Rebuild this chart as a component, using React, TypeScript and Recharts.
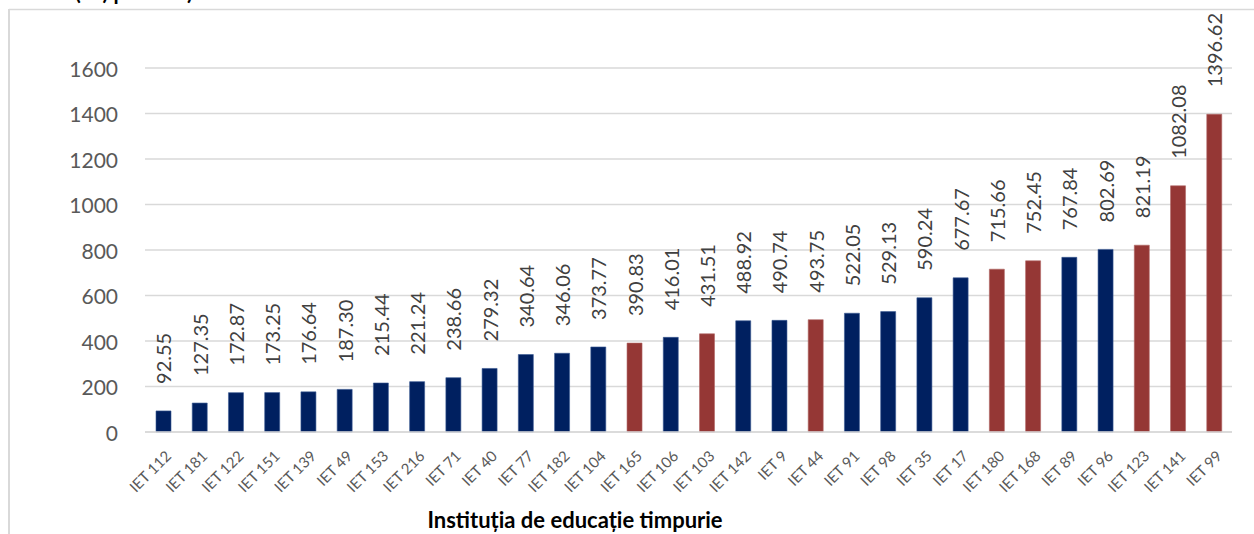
import React from "react";
import { BarChart, Bar, XAxis, YAxis, CartesianGrid, Cell, LabelList } from "recharts";

const categories = [
  "IET 112", "IET 181", "IET 122", "IET 151", "IET 139", "IET 49", "IET 153", "IET 216",
  "IET 71", "IET 40", "IET 77", "IET 182", "IET 104", "IET 165", "IET 106", "IET 103",
  "IET 142", "IET 9", "IET 44", "IET 91", "IET 98", "IET 35", "IET 17", "IET 180",
  "IET 168", "IET 89", "IET 96", "IET 123", "IET 141", "IET 99",
];
const values = [
  92.55, 127.35, 172.87, 173.25, 176.64, 187.3, 215.44, 221.24, 238.66, 279.32, 340.64,
  346.06, 373.77, 390.83, 416.01, 431.51, 488.92, 490.74, 493.75, 522.05, 529.13, 590.24,
  677.67, 715.66, 752.45, 767.84, 802.69, 821.19, 1082.08, 1396.62,
];
// 1 = highlighted (red), 0 = regular (navy)
const groups = [
  0, 0, 0, 0, 0, 0, 0, 0, 0, 0, 0, 0, 0, 1, 0, 1, 0, 0, 1, 0, 0, 0, 0, 1, 1, 0, 0, 1, 1, 1,
];
const yTicks = [0, 200, 400, 600, 800, 1000, 1200, 1400, 1600];
const xTitle = "Instituția de educație timpurie";
const topTitle = "(lei) per elev)";

const NAVY = "#002060";
const RED = "#953735";
const FONT = "Lato, 'Open Sans', sans-serif";

const data = categories.map((name, i) => ({ name, value: values[i], group: groups[i] }));

const YTick = (props: any) => {
  const { y, payload } = props;
  return (
    <text x={118} y={y} textAnchor="end" dominantBaseline="central" fill="#595959" fontSize={21} fontFamily={FONT}>
      {payload.value}
    </text>
  );
};

const XTick = (props: any) => {
  const { x, y, payload } = props;
  return (
    <g transform={`translate(${x + 9},${y + 17})`}>
      <text x={0} y={0} textAnchor="end" transform="rotate(-45)" fill="#595959" fontSize={15} fontFamily={FONT}>
        {payload.value}
      </text>
    </g>
  );
};

const ValueLabel = (props: any) => {
  const { x, y, width, value } = props;
  const cx = x + width / 2;
  const cy = y - 27;
  return (
    <text
      x={cx}
      y={cy}
      transform={`rotate(-90, ${cx}, ${cy})`}
      textAnchor="start"
      dominantBaseline="central"
      fill="#404040"
      fontSize={20}
      fontFamily={FONT}
    >
      {Number(value).toFixed(2)}
    </text>
  );
};

export default function App() {
  return (
    <div style={{ position: "fixed", left: 0, top: 0, width: 1254, height: 534, background: "#fff" }}>
      <BarChart
        width={1254}
        height={534}
        data={data}
        margin={{ top: 68, right: 22, left: 0, bottom: 0 }}
        barSize={15}
      >
        <CartesianGrid vertical={false} stroke="#d9d9d9" strokeWidth={1.5} />
        <XAxis
          dataKey="name"
          interval={0}
          height={102}
          tick={<XTick />}
          tickLine={false}
          axisLine={{ stroke: "#d9d9d9", strokeWidth: 1.5 }}
        />
        <YAxis
          width={145}
          domain={[0, 1600]}
          ticks={yTicks}
          tick={<YTick />}
          tickLine={false}
          axisLine={false}
        />
        <Bar dataKey="value" isAnimationActive={false}>
          {data.map((d, i) => (
            <Cell key={i} fill={d.group ? RED : NAVY} stroke={d.group ? "#b06664" : "#3a5a93"} strokeWidth={0.6} />
          ))}
          <LabelList dataKey="value" content={<ValueLabel />} />
        </Bar>
      </BarChart>
      <svg
        width={1254}
        height={534}
        style={{ position: "absolute", left: 0, top: 0, pointerEvents: "none" }}
      >
        <line x1={9} y1={9.5} x2={1254} y2={9.5} stroke="#d9d9d9" strokeWidth={1.5} />
        <line x1={9} y1={9} x2={9} y2={534} stroke="#d9d9d9" strokeWidth={2} />
        <text x={75} y={0} fill="#000" fontSize={21} fontWeight="bold" fontFamily={FONT}>
          {topTitle}
        </text>
        <text x={575} y={528} textAnchor="middle" fill="#000" fontSize={22} fontWeight="bold" fontFamily={FONT}>
          {xTitle}
        </text>
      </svg>
    </div>
  );
}
